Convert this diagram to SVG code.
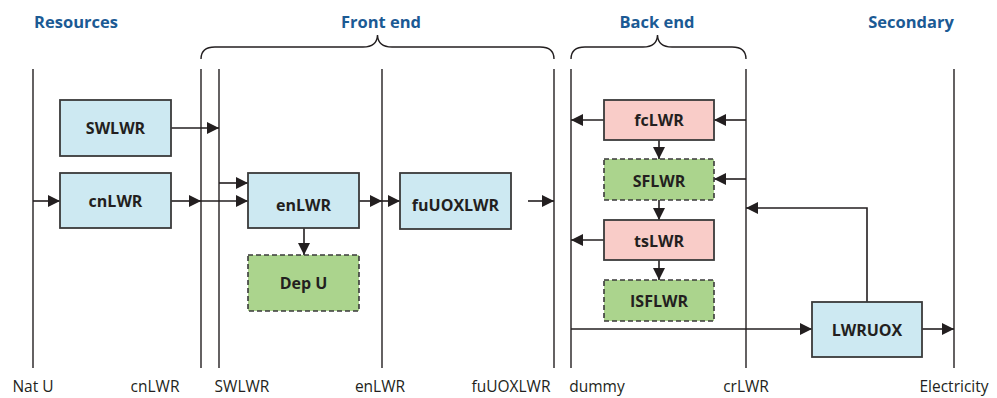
<svg xmlns="http://www.w3.org/2000/svg" width="997" height="398" viewBox="0 0 997 398">
<defs>
<marker id="ah" viewBox="0 0 12 12" refX="12" refY="6" markerWidth="12" markerHeight="12" markerUnits="userSpaceOnUse" orient="auto"><path d="M0,0 L12,6 L0,12 z" fill="#231f20"/></marker>
<style>
.title{font-family:"Open Sans","Liberation Sans",sans-serif;font-weight:bold;font-size:16.5px;fill:#1b5a94;text-anchor:middle}
.lbl{font-family:"Open Sans","Liberation Sans",sans-serif;font-weight:bold;font-size:16px;fill:#231f20;text-anchor:middle}
.bot{font-family:"Open Sans","Liberation Sans",sans-serif;font-size:15.5px;fill:#231f20;text-anchor:middle}
.vl{stroke:#231f20;stroke-width:1.4;fill:none}
.br{stroke:#231f20;stroke-width:1.4;fill:none}
.c{stroke:#231f20;stroke-width:1.6;fill:none;marker-end:url(#ah)}
.blue{fill:#cde9f2;stroke:#3a3a3a;stroke-width:1.8}
.pink{fill:#f9ccc8;stroke:#3a3a3a;stroke-width:1.8}
.green{fill:#abd48d;stroke:#3a3a3a;stroke-width:1.6;stroke-dasharray:5,3}
</style>
</defs>
<rect width="997" height="398" fill="#ffffff"/>
<g id="titles">
<text class="title" x="76" y="28">Resources</text>
<text class="title" x="381" y="28">Front end</text>
<text class="title" x="657" y="28">Back end</text>
<text class="title" x="911" y="28">Secondary</text>
</g>
<g id="brackets">
<path class="br" d="M201,59 Q201,47 215,47 L363,47 Q377,47 377.5,35 Q378,47 392,47 L540,47 Q554,47 554,59"/>
<path class="br" d="M571,59 Q571,47 585,47 L643,47 Q657,47 657.5,35 Q658,47 672,47 L732,47 Q746,47 746,59"/>
</g>
<g id="lines">
<line class="vl" x1="33" y1="69" x2="33" y2="368"/>
<line class="vl" x1="201" y1="69" x2="201" y2="368"/>
<line class="vl" x1="219" y1="69" x2="219" y2="368"/>
<line class="vl" x1="382" y1="69" x2="382" y2="368"/>
<line class="vl" x1="554" y1="69" x2="554" y2="368"/>
<line class="vl" x1="571" y1="69" x2="571" y2="368"/>
<line class="vl" x1="746" y1="69" x2="746" y2="368"/>
<line class="vl" x1="954" y1="69" x2="954" y2="368"/>
</g>
<g id="connectors">
<line class="c" x1="171" y1="128" x2="219" y2="128"/>
<line class="c" x1="33" y1="201" x2="60" y2="201"/>
<line class="c" x1="171" y1="201" x2="201" y2="201"/>
<line class="c" x1="201" y1="201" x2="248" y2="201"/>
<line class="c" x1="219" y1="183" x2="248" y2="183"/>
<line class="c" x1="359" y1="201" x2="382" y2="201"/>
<line class="c" x1="382" y1="201" x2="400" y2="201"/>
<line class="c" x1="304" y1="228" x2="304" y2="255"/>
<line class="c" x1="528" y1="201" x2="554" y2="201"/>
<line class="c" x1="746" y1="120" x2="714" y2="120"/>
<line class="c" x1="604" y1="120" x2="571" y2="120"/>
<line class="c" x1="659" y1="140" x2="659" y2="159"/>
<line class="c" x1="746" y1="179" x2="714" y2="179"/>
<line class="c" x1="659" y1="200" x2="659" y2="220"/>
<line class="c" x1="604" y1="240" x2="571" y2="240"/>
<line class="c" x1="659" y1="260" x2="659" y2="280"/>
<polyline class="c" points="867,302 867,208 746,208"/>
<line class="c" x1="571" y1="329" x2="812" y2="329"/>
<line class="c" x1="922" y1="329" x2="954" y2="329"/>
</g>
<g id="SWLWR"><rect class="blue" x="60" y="100" width="111" height="56"/><text class="lbl" x="115.5" y="134">SWLWR</text></g>
<g id="cnLWR"><rect class="blue" x="60" y="173" width="111" height="55"/><text class="lbl" x="115.5" y="207">cnLWR</text></g>
<g id="enLWR"><rect class="blue" x="248" y="173" width="111" height="55"/><text class="lbl" x="303.5" y="211">enLWR</text></g>
<g id="DepU"><rect class="green" x="248" y="255" width="111" height="56"/><text class="lbl" x="303.5" y="289">Dep U</text></g>
<g id="fuUOXLWR"><rect class="blue" x="400" y="173" width="111" height="56"/><text class="lbl" x="455.5" y="211">fuUOXLWR</text></g>
<g id="fcLWR"><rect class="pink" x="604" y="100" width="110" height="40"/><text class="lbl" x="659" y="126">fcLWR</text></g>
<g id="SFLWR"><rect class="green" x="604" y="159" width="110" height="41"/><text class="lbl" x="659" y="187">SFLWR</text></g>
<g id="tsLWR"><rect class="pink" x="604" y="220" width="110" height="40"/><text class="lbl" x="659" y="247">tsLWR</text></g>
<g id="ISFLWR"><rect class="green" x="604" y="280" width="110" height="41"/><text class="lbl" x="659" y="307">ISFLWR</text></g>
<g id="LWRUOX"><rect class="blue" x="812" y="302" width="110" height="55"/><text class="lbl" x="867" y="336">LWRUOX</text></g>
<g id="bottom-labels">
<text class="bot" x="33" y="392">Nat U</text>
<text class="bot" x="155" y="392">cnLWR</text>
<text class="bot" x="242" y="392">SWLWR</text>
<text class="bot" x="380" y="392">enLWR</text>
<text class="bot" x="511" y="392">fuUOXLWR</text>
<text class="bot" x="597" y="392">dummy</text>
<text class="bot" x="746" y="392">crLWR</text>
<text class="bot" x="954" y="392">Electricity</text>
</g>
</svg>
